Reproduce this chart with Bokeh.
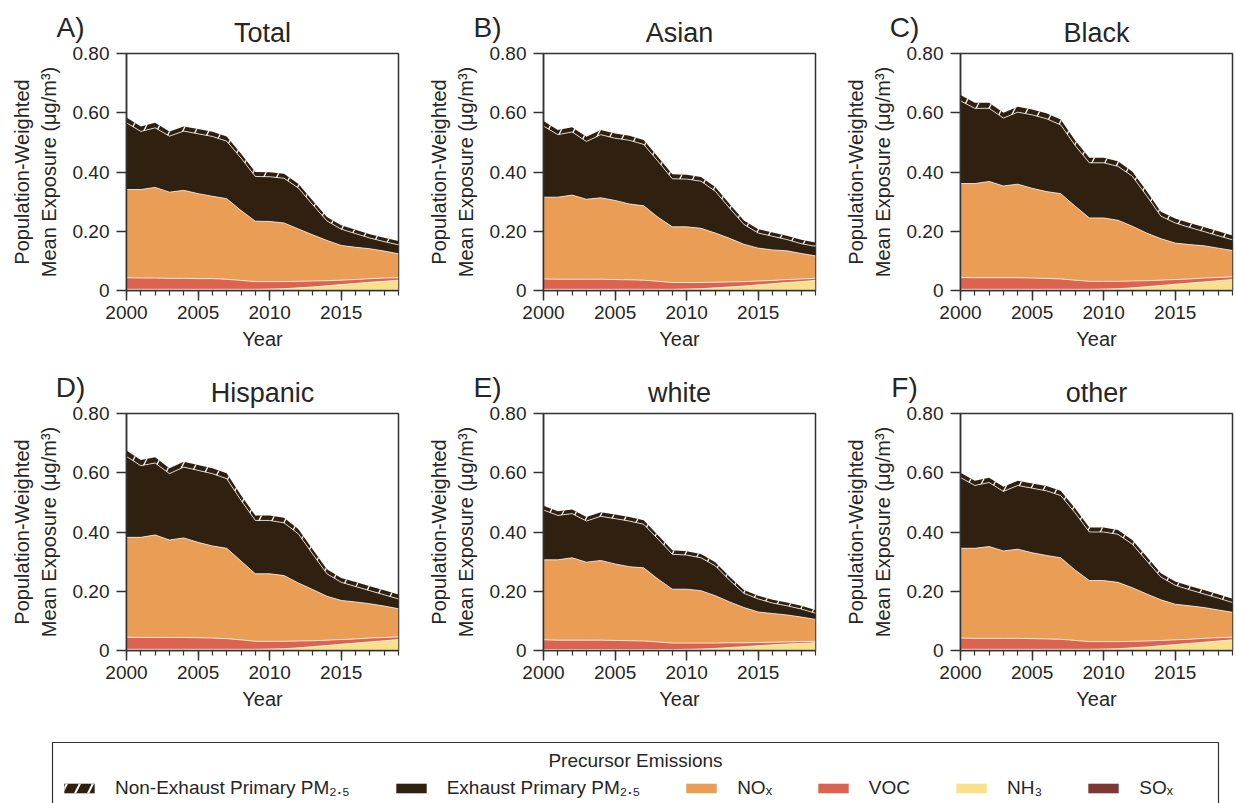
from bokeh.plotting import figure
from bokeh.layouts import column, row
from bokeh.models import (Range1d, FixedTicker, SingleIntervalTicker, Label, Legend,
                          LegendItem, ColumnDataSource, NumeralTickFormatter)
from bokeh.transform import stack
from bokeh.embed import file_html
from bokeh.resources import INLINE

years = list(range(2000, 2020))
panel_letters = ["A)", "B)", "C)", "D)", "E)", "F)"]
panel_titles = ["Total", "Asian", "Black", "Hispanic", "white", "other"]
series_labels = ["SOₓ", "NH₃", "VOC", "NOₓ", "Exhaust Primary PM₂.₅", "Non-Exhaust Primary PM₂.₅"]
y_ticks = [0, 0.2, 0.4, 0.6, 0.8]

# ---- Total ----
total_sox = [0.001, 0.001, 0.001, 0.001, 0.001, 0.001, 0.001, 0.001, 0.001, 0.001, 0.001, 0.001, 0.001, 0.001, 0.001, 0.001, 0.001, 0.001, 0.001, 0.001]
total_nh3 = [0.003, 0.003, 0.003, 0.003, 0.003, 0.003, 0.003, 0.003, 0.003, 0.003, 0.004, 0.005, 0.008, 0.011, 0.015, 0.019, 0.023, 0.027, 0.030, 0.034]
total_voc = [0.039, 0.038, 0.038, 0.037, 0.037, 0.036, 0.036, 0.034, 0.030, 0.026, 0.025, 0.024, 0.022, 0.020, 0.017, 0.015, 0.013, 0.012, 0.011, 0.008]
total_nox = [0.298, 0.299, 0.306, 0.291, 0.297, 0.287, 0.278, 0.272, 0.236, 0.204, 0.203, 0.198, 0.177, 0.156, 0.136, 0.117, 0.109, 0.101, 0.091, 0.081]
total_exh = [0.225, 0.196, 0.201, 0.189, 0.200, 0.202, 0.202, 0.194, 0.177, 0.151, 0.151, 0.151, 0.138, 0.102, 0.066, 0.055, 0.046, 0.036, 0.032, 0.030]
total_nonexh = [0.018, 0.017, 0.017, 0.016, 0.016, 0.016, 0.016, 0.016, 0.015, 0.015, 0.015, 0.015, 0.014, 0.014, 0.013, 0.013, 0.013, 0.013, 0.013, 0.013]

# ---- Asian ----
asian_sox = [0.001, 0.001, 0.001, 0.001, 0.001, 0.001, 0.001, 0.001, 0.001, 0.001, 0.001, 0.001, 0.001, 0.001, 0.001, 0.001, 0.001, 0.001, 0.001, 0.001]
asian_nh3 = [0.003, 0.003, 0.003, 0.003, 0.003, 0.003, 0.003, 0.003, 0.003, 0.003, 0.004, 0.005, 0.008, 0.011, 0.014, 0.018, 0.022, 0.026, 0.029, 0.033]
asian_voc = [0.035, 0.034, 0.034, 0.034, 0.034, 0.033, 0.032, 0.031, 0.027, 0.023, 0.022, 0.021, 0.019, 0.017, 0.015, 0.013, 0.011, 0.010, 0.009, 0.007]
asian_nox = [0.276, 0.277, 0.284, 0.270, 0.275, 0.267, 0.256, 0.251, 0.216, 0.188, 0.188, 0.183, 0.166, 0.147, 0.126, 0.111, 0.103, 0.097, 0.086, 0.076]
asian_exh = [0.240, 0.211, 0.213, 0.195, 0.213, 0.210, 0.215, 0.207, 0.189, 0.162, 0.161, 0.159, 0.141, 0.102, 0.067, 0.051, 0.046, 0.038, 0.033, 0.032]
asian_nonexh = [0.017, 0.016, 0.016, 0.016, 0.016, 0.016, 0.015, 0.015, 0.015, 0.015, 0.015, 0.014, 0.014, 0.014, 0.013, 0.013, 0.013, 0.013, 0.013, 0.013]

# ---- Black ----
black_sox = [0.001, 0.001, 0.001, 0.001, 0.001, 0.001, 0.001, 0.001, 0.001, 0.001, 0.001, 0.001, 0.001, 0.001, 0.001, 0.001, 0.001, 0.001, 0.001, 0.001]
black_nh3 = [0.003, 0.003, 0.003, 0.003, 0.003, 0.003, 0.003, 0.003, 0.003, 0.003, 0.004, 0.005, 0.008, 0.012, 0.016, 0.020, 0.024, 0.028, 0.032, 0.036]
black_voc = [0.040, 0.039, 0.039, 0.039, 0.039, 0.038, 0.037, 0.035, 0.031, 0.027, 0.026, 0.025, 0.023, 0.020, 0.018, 0.016, 0.014, 0.013, 0.011, 0.009]
black_nox = [0.317, 0.318, 0.325, 0.310, 0.316, 0.303, 0.293, 0.288, 0.250, 0.214, 0.214, 0.206, 0.185, 0.161, 0.140, 0.123, 0.116, 0.109, 0.099, 0.089]
black_exh = [0.279, 0.254, 0.247, 0.229, 0.243, 0.248, 0.246, 0.232, 0.205, 0.186, 0.186, 0.182, 0.169, 0.126, 0.076, 0.068, 0.058, 0.048, 0.042, 0.036]
black_nonexh = [0.020, 0.019, 0.019, 0.018, 0.018, 0.018, 0.018, 0.018, 0.017, 0.017, 0.017, 0.017, 0.016, 0.016, 0.015, 0.015, 0.015, 0.015, 0.015, 0.015]

# ---- Hispanic ----
hispanic_sox = [0.001, 0.001, 0.001, 0.001, 0.001, 0.001, 0.001, 0.001, 0.001, 0.001, 0.001, 0.001, 0.001, 0.001, 0.001, 0.001, 0.001, 0.001, 0.001, 0.001]
hispanic_nh3 = [0.003, 0.003, 0.003, 0.003, 0.003, 0.003, 0.003, 0.003, 0.003, 0.003, 0.004, 0.005, 0.008, 0.012, 0.016, 0.020, 0.024, 0.028, 0.032, 0.036]
hispanic_voc = [0.041, 0.040, 0.040, 0.040, 0.040, 0.039, 0.038, 0.036, 0.032, 0.027, 0.026, 0.025, 0.023, 0.020, 0.018, 0.016, 0.014, 0.013, 0.011, 0.009]
hispanic_nox = [0.337, 0.338, 0.346, 0.329, 0.336, 0.322, 0.311, 0.305, 0.266, 0.228, 0.228, 0.222, 0.196, 0.173, 0.148, 0.132, 0.125, 0.116, 0.106, 0.095]
hispanic_exh = [0.273, 0.242, 0.243, 0.224, 0.239, 0.243, 0.244, 0.235, 0.205, 0.180, 0.180, 0.178, 0.166, 0.120, 0.076, 0.061, 0.052, 0.044, 0.038, 0.033]
hispanic_nonexh = [0.020, 0.019, 0.019, 0.018, 0.018, 0.018, 0.018, 0.018, 0.017, 0.017, 0.017, 0.017, 0.016, 0.016, 0.015, 0.015, 0.015, 0.015, 0.015, 0.015]

# ---- white ----
white_sox = [0.001, 0.001, 0.001, 0.001, 0.001, 0.001, 0.001, 0.001, 0.001, 0.001, 0.001, 0.001, 0.001, 0.001, 0.001, 0.001, 0.001, 0.001, 0.001, 0.001]
white_nh3 = [0.002, 0.002, 0.002, 0.002, 0.002, 0.002, 0.002, 0.002, 0.002, 0.002, 0.003, 0.004, 0.006, 0.009, 0.012, 0.015, 0.018, 0.021, 0.023, 0.025]
white_voc = [0.033, 0.032, 0.032, 0.032, 0.032, 0.031, 0.030, 0.029, 0.026, 0.022, 0.021, 0.020, 0.018, 0.016, 0.013, 0.011, 0.009, 0.007, 0.006, 0.005]
white_nox = [0.270, 0.271, 0.278, 0.263, 0.269, 0.258, 0.250, 0.247, 0.212, 0.182, 0.182, 0.177, 0.160, 0.138, 0.119, 0.103, 0.097, 0.091, 0.083, 0.074]
white_exh = [0.168, 0.150, 0.149, 0.139, 0.149, 0.153, 0.154, 0.147, 0.135, 0.118, 0.115, 0.111, 0.101, 0.073, 0.048, 0.044, 0.035, 0.031, 0.027, 0.021]
white_nonexh = [0.015, 0.014, 0.014, 0.014, 0.014, 0.014, 0.014, 0.014, 0.013, 0.013, 0.013, 0.013, 0.012, 0.012, 0.011, 0.011, 0.011, 0.011, 0.011, 0.011]

# ---- other ----
other_sox = [0.001, 0.001, 0.001, 0.001, 0.001, 0.001, 0.001, 0.001, 0.001, 0.001, 0.001, 0.001, 0.001, 0.001, 0.001, 0.001, 0.001, 0.001, 0.001, 0.001]
other_nh3 = [0.003, 0.003, 0.003, 0.003, 0.003, 0.003, 0.003, 0.003, 0.003, 0.003, 0.004, 0.005, 0.008, 0.011, 0.015, 0.019, 0.023, 0.027, 0.031, 0.035]
other_voc = [0.038, 0.037, 0.037, 0.037, 0.037, 0.036, 0.035, 0.034, 0.030, 0.026, 0.025, 0.024, 0.022, 0.020, 0.018, 0.016, 0.014, 0.013, 0.011, 0.009]
other_nox = [0.303, 0.304, 0.310, 0.295, 0.301, 0.290, 0.282, 0.275, 0.238, 0.206, 0.206, 0.200, 0.181, 0.159, 0.137, 0.120, 0.113, 0.104, 0.094, 0.084]
other_exh = [0.239, 0.212, 0.216, 0.201, 0.215, 0.218, 0.218, 0.210, 0.193, 0.164, 0.164, 0.162, 0.147, 0.112, 0.077, 0.064, 0.054, 0.046, 0.040, 0.033]
other_nonexh = [0.016, 0.016, 0.016, 0.016, 0.016, 0.016, 0.016, 0.016, 0.015, 0.015, 0.015, 0.015, 0.014, 0.014, 0.013, 0.013, 0.013, 0.013, 0.013, 0.013]

panel_data = [
    (total_sox, total_nh3, total_voc, total_nox, total_exh, total_nonexh),
    (asian_sox, asian_nh3, asian_voc, asian_nox, asian_exh, asian_nonexh),
    (black_sox, black_nh3, black_voc, black_nox, black_exh, black_nonexh),
    (hispanic_sox, hispanic_nh3, hispanic_voc, hispanic_nox, hispanic_exh, hispanic_nonexh),
    (white_sox, white_nh3, white_voc, white_nox, white_exh, white_nonexh),
    (other_sox, other_nh3, other_voc, other_nox, other_exh, other_nonexh),
]

keys = ["sox", "nh3", "voc", "nox", "exh", "nonexh"]
colors = ["#7E3833", "#F9E08A", "#DC6350", "#E99D55", "#30200F", "#30200F"]
FONT = "Liberation Sans"
TXT = "#262626"

FRAME_LEFT = 126      # left border of each panel (px)
FRAME_W = 272
FRAME_H = 237
COL_W = 417           # horizontal pitch of the panels
HEAD_H = 53
TOP_B = 14            # panels overlap the header by this many px (transparent border)


def make_header(idx):
    h = figure(width=1236, height=HEAD_H, x_range=Range1d(0, 1236), y_range=Range1d(HEAD_H, 0),
               output_backend="svg", toolbar_location=None, min_border=0)
    h.axis.visible = False
    h.grid.visible = False
    h.outline_line_color = None
    for c, i in enumerate(idx):
        x0 = c * COL_W + FRAME_LEFT
        h.add_layout(Label(x=x0 - 56, y=27, text=panel_letters[i], text_font=FONT,
                           text_font_size="28px", text_color=TXT, text_align="center",
                           text_baseline="middle"))
        h.add_layout(Label(x=x0 + FRAME_W / 2, y=32, text=panel_titles[i], text_font=FONT,
                           text_font_size="27px", text_color=TXT, text_align="center",
                           text_baseline="middle"))
    return h


def make_panel(i, right_border):
    p = figure(frame_width=FRAME_W, frame_height=FRAME_H,
               x_range=Range1d(2000, 2019), y_range=Range1d(0, 0.8),
               output_backend="svg", toolbar_location=None,
               min_border_left=FRAME_LEFT, min_border_right=right_border,
               min_border_top=TOP_B, min_border_bottom=70)
    data = dict(year=years)
    for k, arr in zip(keys, panel_data[i]):
        data[k] = arr
    src = ColumnDataSource(data)
    for j, k in enumerate(keys):
        y1 = stack(*keys[:j]) if j > 0 else 0
        kw = dict(fill_color=colors[j])
        if k == "nonexh":
            kw.update(hatch_pattern="/", hatch_color="white", hatch_scale=26, hatch_weight=1.3)
        p.varea(x="year", y1=y1, y2=stack(*keys[:j + 1]), source=src, **kw)
    for j in range(1, len(keys)):
        p.line(x="year", y=stack(*keys[:j]), source=src, line_color="white",
               line_alpha=0.75, line_width=1)

    p.xgrid.visible = False
    p.ygrid.visible = False
    p.outline_line_color = "#333333"
    p.outline_line_width = 1.5
    p.outline_line_alpha = 1
    p.background_fill_color = "white"
    p.border_fill_alpha = 0

    p.xaxis.ticker = SingleIntervalTicker(interval=5, num_minor_ticks=5)
    p.yaxis.ticker = FixedTicker(ticks=y_ticks)
    p.yaxis.formatter = NumeralTickFormatter(format="0.00")
    p.yaxis.major_label_overrides = {0: "0"}
    p.xaxis.axis_label = "Year"
    p.yaxis.axis_label = "Population-Weighted\nMean Exposure (μg/m³)"
    for ax in (p.xaxis, p.yaxis):
        ax.axis_line_color = "#333333"
        ax.axis_line_width = 1.5
        ax.major_tick_line_color = "#333333"
        ax.major_tick_line_width = 1.5
        ax.minor_tick_line_color = "#333333"
        ax.minor_tick_line_width = 1.2
        ax.major_tick_out = 10
        ax.major_tick_in = 0
        ax.minor_tick_out = 5
        ax.minor_tick_in = 0
        ax.major_label_text_font = FONT
        ax.major_label_text_font_size = "19px"
        ax.major_label_text_color = TXT
        ax.axis_label_text_font = FONT
        ax.axis_label_text_font_size = "20px"
        ax.axis_label_text_font_style = "normal"
        ax.axis_label_text_color = TXT
    p.yaxis.minor_tick_line_color = None
    p.yaxis.major_label_standoff = 7
    p.yaxis.axis_label_standoff = 10
    p.xaxis.major_label_standoff = 5
    p.xaxis.axis_label_standoff = 6
    return p


panels = [make_panel(i, COL_W - FRAME_LEFT - FRAME_W if i % 3 < 2 else 1236 - 2 * COL_W - FRAME_LEFT - FRAME_W)
          for i in range(6)]

# ---- legend strip ----
lp = figure(width=1236, height=83, x_range=Range1d(0, 1236), y_range=Range1d(83, 0),
            output_backend="svg", toolbar_location=None, min_border=0)
lp.axis.visible = False
lp.grid.visible = False
lp.outline_line_color = None
lp.quad(left=[52], right=[1218], top=[22], bottom=[100], fill_color="white",
        line_color="#333333", line_width=1.2)
lp.add_layout(Label(x=635, y=40, text="Precursor Emissions", text_font=FONT,
                    text_font_size="19px", text_color=TXT, text_align="center",
                    text_baseline="middle"))

order = [5, 4, 3, 2, 1, 0]
items = []
for j in order:
    kw = dict(fill_color=colors[j])
    if keys[j] == "nonexh":
        kw.update(hatch_pattern="/", hatch_color="white", hatch_scale=26, hatch_weight=2)
    r = lp.varea(x=[-50, -40], y1=[-50, -50], y2=[-40, -40], **kw)
    items.append(LegendItem(label=series_labels[j], renderers=[r]))
leg = Legend(items=items, orientation="horizontal", location=(60, 4),
             glyph_width=38, glyph_height=12, label_standoff=17, spacing=42,
             padding=0, margin=0, border_line_alpha=0, background_fill_alpha=0,
             label_text_font=FONT, label_text_font_size="19px", label_text_color=TXT)
lp.add_layout(leg)

row1 = row(*panels[:3], margin=(-TOP_B, 0, 0, 0))
row2 = row(*panels[3:], margin=(-TOP_B, 0, 0, 0))
layout = column(make_header([0, 1, 2]), row1, make_header([3, 4, 5]), row2, lp)
open("out.html", "w").write(file_html(layout, INLINE))
